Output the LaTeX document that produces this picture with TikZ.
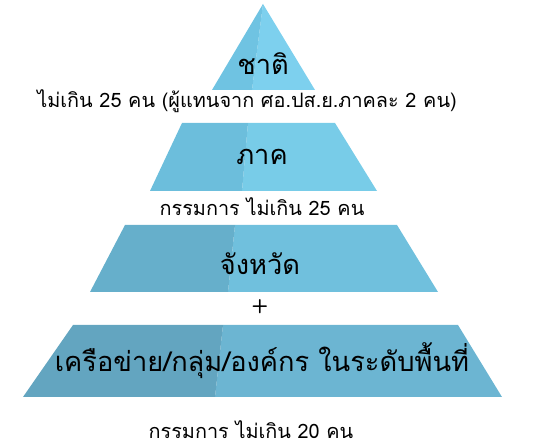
\documentclass[tikz,border=0pt]{standalone}
\usepackage{fontspec}
\newfontfamily\thaifont[Script=Thai]{Loma}
\usetikzlibrary{positioning}
\definecolor{lvlAd}{HTML}{6FC3E2}
\definecolor{lvlAl}{HTML}{7DD0EE}
\definecolor{lvlBd}{HTML}{6CBEDC}
\definecolor{lvlBl}{HTML}{78CCE8}
\definecolor{lvlCd}{HTML}{66AFCB}
\definecolor{lvlCl}{HTML}{70C0DD}
\definecolor{lvlDd}{HTML}{63A5C0}
\definecolor{lvlDl}{HTML}{6CB5D2}
\tikzset{
  lvltxt/.style={font=\thaifont\fontsize{15.5}{18}\selectfont,inner sep=0pt},
  subtxt/.style={font=\thaifont\fontsize{11.3}{13}\selectfont,inner sep=0pt},
  plustxt/.style={font=\sffamily\bfseries\fontsize{11}{13}\selectfont,inner sep=0pt}
}
\begin{document}
\begin{tikzpicture}[x=0.02cm,y=-0.02cm]
  \useasboundingbox (0,0) rectangle (545,448);
  \fill[lvlAl] (263,4) -- (315,90) -- (252,90) -- cycle;
  \fill[lvlAd] (263,4) -- (252,90) -- (212,90) -- cycle;
  \fill[lvlBl] (248,123) -- (335,123) -- (377,191) -- (242,191) -- cycle;
  \fill[lvlBd] (182,123) -- (248,123) -- (242,191) -- (150,191) -- cycle;
  \fill[lvlCl] (235,225) -- (397,225) -- (438,292) -- (228,292) -- cycle;
  \fill[lvlCd] (125,225) -- (235,225) -- (228,292) -- (90,292) -- cycle;
  \fill[lvlDl] (223,325) -- (458,325) -- (502,397) -- (215,397) -- cycle;
  \fill[lvlDd] (73,325) -- (223,325) -- (215,397) -- (23,397) -- cycle;
  \node[lvltxt] (chat) at (263,64) {ชาติ};
  \node[subtxt] (chatnote) at (247,101) {ไม่เกิน 25 คน (ผู้แทนจาก ศอ.ปส.ย.ภาคละ 2 คน)};
  \node[lvltxt] (phak) at (262,157) {ภาค};
  \node[subtxt] (phaknote) at (262,207) {กรรมการ ไม่เกิน 25 คน};
  \node[lvltxt] (changwat) at (260,264) {จังหวัด};
  \node[plustxt] (plus) at (260,307) {+};
  \node[lvltxt] (network) at (262,361) {เครือข่าย/กลุ่ม/องค์กร ในระดับพื้นที่};
  \node[subtxt] (netnote) at (251,430) {กรรมการ ไม่เกิน 20 คน};
\end{tikzpicture}
\end{document}
